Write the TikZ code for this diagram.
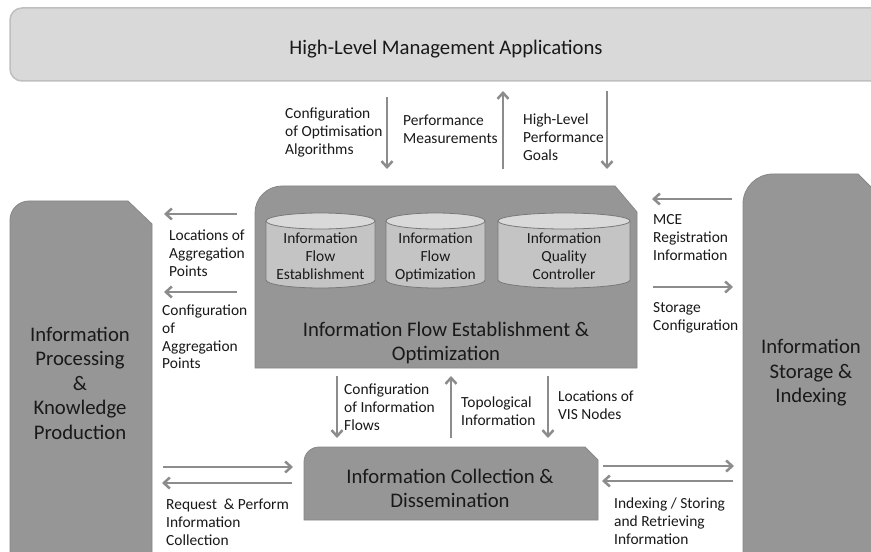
\documentclass[tikz,border=0pt]{standalone}
\usepackage{fontspec}
\setmainfont{Carlito}
\usetikzlibrary{arrows.meta}
\definecolor{topfill}{RGB}{217,217,217}
\definecolor{topedge}{RGB}{191,191,191}
\definecolor{boxfill}{RGB}{150,150,150}
\definecolor{boxedge}{RGB}{135,135,135}
\definecolor{cylbody}{RGB}{196,196,196}
\definecolor{cyltop}{RGB}{217,217,217}
\definecolor{cyledge}{RGB}{120,120,120}
\definecolor{arrowgray}{RGB}{140,140,140}
\definecolor{txt}{RGB}{25,25,25}
\tikzset{
  bigbox/.style={fill=boxfill, draw=boxedge, line width=0.8bp},
  bigtext/.style={font=\fontsize{20.8}{24.5}\selectfont, align=center, text=txt, inner sep=0pt, yshift=-2.5bp},
  smalltext/.style={font=\fontsize{15.5}{18}\selectfont, align=left, text=txt, inner sep=0pt, anchor=west, yshift=-2.5bp},
  cyltext/.style={font=\fontsize{15.5}{18}\selectfont, align=center, text=txt, inner sep=0pt, yshift=-2.5bp},
  cylside/.style={fill=cylbody, draw=cyledge, line width=0.8bp},
  cylcap/.style={fill=cyltop, draw=cyledge, line width=0.8bp},
  flow/.style={draw=arrowgray, line width=2.5bp, -{Straight Barb[length=6bp, width=11bp]}}
}
\begin{document}
\begin{tikzpicture}[x=1bp, y=-1bp]
\useasboundingbox (0,0) rectangle (871,552);
\clip (0,0) rectangle (871,552);
\fill[white] (0,0) rectangle (871,552);

% top box
\draw[fill=topfill, draw=topedge, line width=1.5bp]
  (22,8) -- (890,8) -- (890,81) -- (22,81)
  .. controls (15.4,81) and (10,75.6) .. (10,69) -- (10,20)
  .. controls (10,13.4) and (15.4,8) .. (22,8) -- cycle;
\node[bigtext] (hlma) at (446,47) {\strut High-Level Management Applications\strut};

% left box
\draw[bigbox] (10,570) -- (10,220) .. controls (10,209.5) and (18.5,201) .. (29,201)
  -- (128,201) -- (152,224) -- (152,570) -- cycle;
\node[bigtext] (ipkp) at (80,383) {\strut Information\\Processing\\\&\\Knowledge\\Production\strut};

% middle box
\draw[bigbox] (255,368) -- (255,213) .. controls (255,198.1) and (267.1,186) .. (282,186)
  -- (615,186) -- (637,212) -- (637,368) -- cycle;
\node[bigtext] (ifeo) at (446,341) {\strut Information Flow Establishment \&\\Optimization\strut};

% right box
\draw[bigbox] (743,570) -- (743,204) .. controls (743,187.4) and (756.4,174) .. (773,174)
  -- (858,174) -- (884,200) -- (884,570) -- cycle;
\node[bigtext] (isi) at (811,371) {\strut Information\\Storage \&\\Indexing\strut};

% bottom box
\draw[bigbox] (304,520) -- (304,462) .. controls (304,453.7) and (310.7,447) .. (319,447)
  -- (585,447) -- (598,460) -- (598,520) -- cycle;
\node[bigtext] (icd) at (450,488) {\strut Information Collection \&\\Dissemination\strut};

% cylinders
\foreach \cx/\rx in {320.5/54.5, 435.5/49.5, 564/66}{
  \path[cylside] (\cx-\rx,221) -- (\cx-\rx,280)
    .. controls (\cx-\rx,284.4) and (\cx-0.552*\rx,288) .. (\cx,288)
    .. controls (\cx+0.552*\rx,288) and (\cx+\rx,284.4) .. (\cx+\rx,280)
    -- (\cx+\rx,221) -- cycle;
  \draw[cylcap] (\cx,221) ellipse [x radius=\rx, y radius=8];
}
\node[cyltext] (cyl1) at (320.5,255) {\strut Information\\Flow\\Establishment\strut};
\node[cyltext] (cyl2) at (435.5,255) {\strut Information\\Flow\\Optimization\strut};
\node[cyltext] (cyl3) at (564,255) {\strut Information\\Quality\\Controller\strut};

% arrow endpoints
\coordinate (t1s) at (387,97);  \coordinate (t1e) at (387,169);
\coordinate (t2s) at (503,169); \coordinate (t2e) at (503,91);
\coordinate (t3s) at (607,91);  \coordinate (t3e) at (607,169);
\coordinate (l1s) at (237,214); \coordinate (l1e) at (164,214);
\coordinate (l2s) at (237,292); \coordinate (l2e) at (164,292);
\coordinate (r1s) at (732,199); \coordinate (r1e) at (652,199);
\coordinate (r2s) at (653,287); \coordinate (r2e) at (733,287);
\coordinate (b1s) at (337,376); \coordinate (b1e) at (337,438);
\coordinate (b2s) at (451,438); \coordinate (b2e) at (451,376);
\coordinate (b3s) at (548,376); \coordinate (b3e) at (548,438);
\coordinate (dl1s) at (163,467); \coordinate (dl1e) at (293,467);
\coordinate (dl2s) at (292,483); \coordinate (dl2e) at (162,483);
\coordinate (dr1s) at (603,466); \coordinate (dr1e) at (734,466);
\coordinate (dr2s) at (733,481); \coordinate (dr2e) at (602,481);

\foreach \a in {t1,t2,t3,l1,l2,r1,r2,b1,b2,b3,dl1,dl2,dr1,dr2}{
  \draw[flow] (\a s) -- (\a e);
}

% labels
\node[smalltext] (lt1) at (285,130) {\strut Configuration\\of Optimisation\\Algorithms\strut};
\node[smalltext] (lt2) at (403,128) {\strut Performance\\Measurements\strut};
\node[smalltext] (lt3) at (523,136) {\strut High-Level\\Performance\\Goals\strut};
\node[smalltext] (ll1) at (169,252) {\strut Locations of\\Aggregation\\Points\strut};
\node[smalltext] (ll2) at (162,336) {\strut Configuration\\of\\Aggregation\\Points\strut};
\node[smalltext] (lr1) at (653,236) {\strut MCE\\Registration\\Information\strut};
\node[smalltext] (lr2) at (653,315) {\strut Storage\\Configuration\strut};
\node[smalltext] (lb1) at (344,406) {\strut Configuration\\of Information\\Flows\strut};
\node[smalltext] (lb2) at (461,410) {\strut Topological\\Information\strut};
\node[smalltext] (lb3) at (558,404) {\strut Locations of\\VIS Nodes\strut};
\node[smalltext] (ldl) at (166,521) {\strut Request~~\& Perform\\Information\\Collection\strut};
\node[smalltext] (ldr) at (614,520) {\strut Indexing / Storing\\and Retrieving\\Information\strut};
\end{tikzpicture}
\end{document}
